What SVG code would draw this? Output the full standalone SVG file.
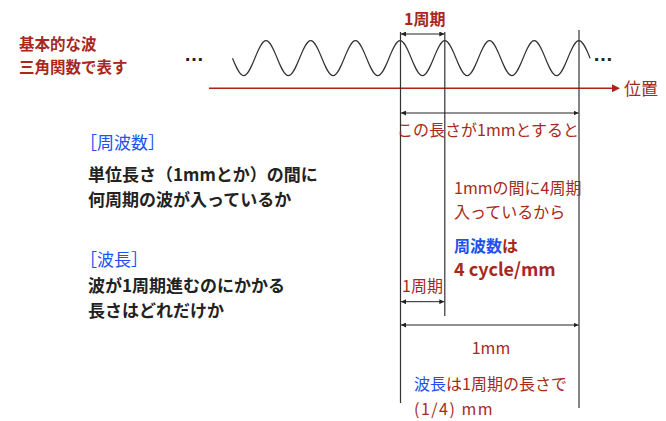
<svg xmlns="http://www.w3.org/2000/svg" width="666" height="421" viewBox="0 0 666 421">
<style>
text{font-family:"Noto Sans CJK JP","Noto Sans",sans-serif;font-size:16px}
.r{fill:#a8281c}
.b{fill:#2050f0}
.k{fill:#222}
.bold{font-weight:bold}
.lg{font-size:17px}
.dim{stroke:#222;stroke-width:1;fill:none}
.vl{stroke:#333;stroke-width:1.2;fill:none}
</style>
<defs>
<marker id="ah" viewBox="0 0 6 6" refX="6" refY="3" markerWidth="5" markerHeight="5" orient="auto-start-reverse" markerUnits="userSpaceOnUse">
<path d="M0,0 L6,3 L0,6 z" fill="#222"/>
</marker>
</defs>
<rect width="666" height="421" fill="#fff"/>
<g id="wave">
<path d="M232.5,58.2 C236.14,67.17 239.63,75.7 243.675,75.7 C251.815,75.7 257.885,40.7 266.025,40.7 S280.235,75.7 288.375,75.7 S302.585,40.7 310.725,40.7 S324.935,75.7 333.075,75.7 S347.285,40.7 355.425,40.7 S369.635,75.7 377.775,75.7 S391.985,40.7 400.125,40.7 S414.335,75.7 422.475,75.7 S436.685,40.7 444.825,40.7 S459.035,75.7 467.175,75.7 S481.385,40.7 489.525,40.7 S503.735,75.7 511.875,75.7 S526.085,40.7 534.225,40.7 S548.435,75.7 556.575,75.7 S570.785,40.7 578.925,40.7 C582.97,40.7 586.46,49.23 590.1,58.2" fill="none" stroke="#333" stroke-width="1.2"/>
<text x="184" y="61" style="font-family:'Liberation Sans',sans-serif;font-size:20px;font-weight:bold" class="k">…</text>
<text x="593" y="61" style="font-family:'Liberation Sans',sans-serif;font-size:20px;font-weight:bold" class="k">…</text>
</g>
<g id="axis">
<line x1="209" y1="88.3" x2="613" y2="88.3" stroke="#b0201a" stroke-width="1.6"/>
<polygon points="612,84.3 620,88.3 612,92.3" fill="#b0201a"/>
<text x="624" y="95" class="r lg">位置</text>
</g>
<g id="connectors">
<line class="vl" x1="400.5" y1="32" x2="400.5" y2="403"/>
<line class="vl" x1="444.8" y1="32" x2="444.8" y2="316"/>
<line class="vl" x1="579" y1="30" x2="579" y2="408"/>
<line class="dim" x1="401" y1="34" x2="444.3" y2="34" marker-start="url(#ah)" marker-end="url(#ah)"/>
<line class="dim" x1="401" y1="113" x2="578.5" y2="113" marker-start="url(#ah)" marker-end="url(#ah)"/>
<line class="dim" x1="401" y1="301.7" x2="444.3" y2="301.7" marker-start="url(#ah)" marker-end="url(#ah)"/>
<line class="dim" x1="401" y1="325" x2="578.5" y2="325" marker-start="url(#ah)" marker-end="url(#ah)"/>
</g>
<g id="title">
<text x="19" y="50" class="r bold" style="font-size:15.5px">基本的な波</text>
<text x="19" y="72.5" class="r bold" style="font-size:15.5px">三角関数で表す</text>
</g>
<g id="period-label">
<text x="404" y="24.5" class="r bold">1周期</text>
</g>
<g id="length-label">
<text x="397" y="136" class="r">この長さが1mmとすると</text>
</g>
<g id="freq-note">
<text x="454" y="194" class="r">1mmの間に4周期</text>
<text x="454" y="218" class="r">入っているから</text>
<text x="454" y="252" class="r bold"><tspan class="b">周波数</tspan>は</text>
<text x="454" y="276" class="r bold" style="font-size:18px">4 cycle/mm</text>
</g>
<g id="small-period">
<text x="402" y="292" class="r">1周期</text>
</g>
<g id="mm-label">
<text x="491" y="354" class="r" text-anchor="middle">1mm</text>
</g>
<g id="wavelength-note">
<text x="414" y="390" class="r"><tspan class="b">波長</tspan>は1周期の長さで</text>
<text x="414" y="414.5" class="r" letter-spacing="1.5">(1/4) mm</text>
</g>
<g id="freq-def">
<text x="80" y="149" class="b lg">［周波数］</text>
<text x="88" y="180.5" class="k bold lg">単位長さ（1mmとか）の間に</text>
<text x="88" y="206" class="k bold lg">何周期の波が入っているか</text>
</g>
<g id="wavelength-def">
<text x="80" y="265.5" class="b lg">［波長］</text>
<text x="88" y="291.5" class="k bold lg">波が1周期進むのにかかる</text>
<text x="88" y="316.5" class="k bold lg">長さはどれだけか</text>
</g>
</svg>
